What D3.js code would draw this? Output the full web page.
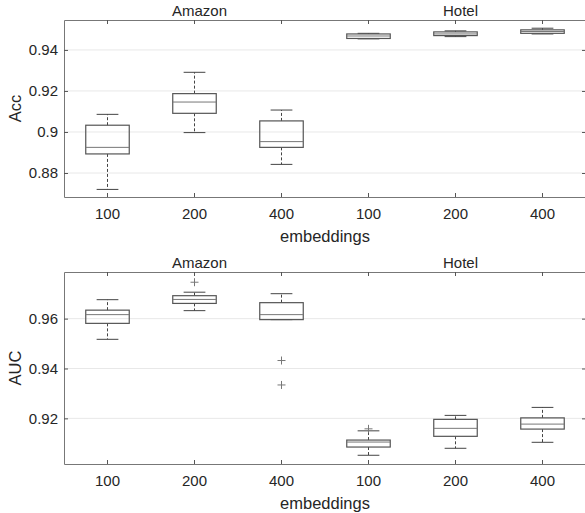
<!DOCTYPE html>
<html>
<head>
<meta charset="utf-8">
<script src="https://cdn.jsdelivr.net/npm/d3@7"></script>
<style>
  body { margin: 0; background: #fff; }
  text { font-family: "Liberation Sans", Arial, sans-serif; fill: #262626; }
</style>
</head>
<body>
<div id="chart"></div>
<script>
// data
const groups = ["Amazon", "Hotel"];
const embeddings = ["100", "200", "400"];

// Acc panel (order: Amazon 100,200,400, Hotel 100,200,400)
const accLow  = [0.8720, 0.8997, 0.8842, 0.9454, 0.9465, 0.9478];
const accQ1   = [0.8893, 0.9091, 0.8925, 0.9456, 0.9470, 0.9481];
const accMed  = [0.8925, 0.9146, 0.8953, 0.9468, 0.9478, 0.9490];
const accQ3   = [0.9033, 0.9187, 0.9054, 0.9478, 0.9488, 0.9498];
const accHigh = [0.9086, 0.9291, 0.9107, 0.9481, 0.9493, 0.9506];
const accOut  = [[], [], [], [], [], []];
const accTicks = [0.88, 0.9, 0.92, 0.94];

// AUC panel
const aucLow  = [0.9517, 0.9632, 0.9596, 0.9052, 0.9080, 0.9104];
const aucQ1   = [0.9581, 0.9661, 0.9596, 0.9085, 0.9128, 0.9157];
const aucMed  = [0.9616, 0.9677, 0.9616, 0.9105, 0.9160, 0.9177];
const aucQ3   = [0.9634, 0.9692, 0.9664, 0.9113, 0.9196, 0.9202];
const aucHigh = [0.9676, 0.9706, 0.9700, 0.9150, 0.9212, 0.9244];
const aucOut  = [[], [0.9746], [0.9432, 0.9334], [0.9158], [], []];
const aucTicks = [0.92, 0.94, 0.96];

const W = 585, H = 513;
const svg = d3.select("#chart").append("svg")
    .attr("width", W)
    .attr("height", H);

const slots = [];
groups.forEach(g => embeddings.forEach(e => slots.push(g + "-" + e)));

const x = d3.scaleBand().domain(slots).range([64, 586]).padding(0);
const bw = x.bandwidth() * 0.5;

function panel(cfg) {
  const y = d3.scaleLinear().domain(cfg.domain).range([cfg.bottom, cfg.top]);
  const g = svg.append("g");
  const left = 64, right = 586;

  // grid
  g.selectAll(".grid")
    .data(cfg.ticks)
    .join("line")
      .attr("x1", left).attr("x2", right)
      .attr("y1", d => y(d)).attr("y2", d => y(d))
      .attr("stroke", "#e8e8e8")
      .attr("stroke-width", 1);

  // bottom axis
  const ax = g.append("g")
    .attr("transform", `translate(0,${cfg.bottom})`)
    .call(d3.axisBottom(x).tickSizeInner(-4).tickSizeOuter(0)
      .tickFormat(d => d.split("-")[1]));
  ax.select(".domain").attr("stroke", "#777");
  ax.selectAll(".tick line").attr("stroke", "#555");
  ax.selectAll(".tick text")
    .attr("y", 17)
    .attr("dy", "0.32em")
    .style("font-size", "15px")
    .style("font-family", "Liberation Sans, Arial, sans-serif")
    .attr("fill", "#262626");

  // top axis (ticks only)
  const axT = g.append("g")
    .attr("transform", `translate(0,${cfg.top})`)
    .call(d3.axisTop(x).tickSizeInner(-4).tickSizeOuter(0).tickFormat(""));
  axT.select(".domain").attr("stroke", "#777");
  axT.selectAll(".tick line").attr("stroke", "#555");

  // left axis
  const ay = g.append("g")
    .attr("transform", `translate(${left},0)`)
    .call(d3.axisLeft(y).tickValues(cfg.ticks).tickSizeInner(-4).tickSizeOuter(0)
      .tickFormat(d => String(+d.toFixed(2))));
  ay.select(".domain").attr("stroke", "#777");
  ay.selectAll(".tick line").attr("stroke", "#555");
  ay.selectAll(".tick text")
    .attr("x", -6)
    .style("font-size", "15px")
    .style("font-family", "Liberation Sans, Arial, sans-serif")
    .attr("fill", "#262626");

  // right axis (ticks only)
  const ayR = g.append("g")
    .attr("transform", `translate(${right},0)`)
    .call(d3.axisRight(y).tickValues(cfg.ticks).tickSizeInner(-4).tickSizeOuter(0).tickFormat(""));
  ayR.select(".domain").attr("stroke", "#777");
  ayR.selectAll(".tick line").attr("stroke", "#555");

  // boxes
  const boxes = slots.map((s, i) => ({
    slot: s, low: cfg.low[i], q1: cfg.q1[i], med: cfg.med[i],
    q3: cfg.q3[i], high: cfg.high[i], out: cfg.out[i]
  }));
  const cx = d => x(d.slot) + x.bandwidth() / 2;
  const bg = g.selectAll(".box").data(boxes).join("g").attr("class", "box");

  bg.append("line")
    .attr("x1", cx).attr("x2", cx)
    .attr("y1", d => y(d.q3)).attr("y2", d => y(d.high))
    .attr("stroke", "#444").attr("stroke-dasharray", "3,2");
  bg.append("line")
    .attr("x1", cx).attr("x2", cx)
    .attr("y1", d => y(d.q1)).attr("y2", d => y(d.low))
    .attr("stroke", "#444").attr("stroke-dasharray", "3,2");
  bg.append("line")
    .attr("x1", d => cx(d) - bw / 4).attr("x2", d => cx(d) + bw / 4)
    .attr("y1", d => y(d.high)).attr("y2", d => y(d.high))
    .attr("stroke", "#444");
  bg.append("line")
    .attr("x1", d => cx(d) - bw / 4).attr("x2", d => cx(d) + bw / 4)
    .attr("y1", d => y(d.low)).attr("y2", d => y(d.low))
    .attr("stroke", "#444");
  bg.append("rect")
    .attr("x", d => cx(d) - bw / 2)
    .attr("width", bw)
    .attr("y", d => y(d.q3))
    .attr("height", d => Math.max(0.5, y(d.q1) - y(d.q3)))
    .attr("fill", "none")
    .attr("stroke", "#555")
    .attr("stroke-width", 1.2);
  bg.append("line")
    .attr("x1", d => cx(d) - bw / 2).attr("x2", d => cx(d) + bw / 2)
    .attr("y1", d => y(d.med)).attr("y2", d => y(d.med))
    .attr("stroke", "#777");

  // outliers
  bg.each(function(d) {
    d3.select(this).selectAll(".out")
      .data(d.out)
      .join("path")
        .attr("d", v => `M${cx(d) - 4},${y(v)}H${cx(d) + 4}M${cx(d)},${y(v) - 4}V${y(v) + 4}`)
        .attr("stroke", "#777")
        .attr("fill", "none");
  });

  // group titles
  g.selectAll(".gtitle")
    .data(groups)
    .join("text")
      .attr("x", (d, i) => x(d + "-200") + x.bandwidth() / 2 + 5)
      .attr("y", cfg.top - 4)
      .attr("text-anchor", "middle")
      .style("font-size", "15px")
      .text(d => d);

  // axis labels
  g.append("text")
    .attr("x", 325)
    .attr("y", cfg.bottom + 45)
    .attr("text-anchor", "middle")
    .style("font-size", "16.5px")
    .text("embeddings");

  g.append("text")
    .attr("transform", `translate(21,${(cfg.top + cfg.bottom) / 2}) rotate(-90)`)
    .attr("text-anchor", "middle")
    .style("font-size", "16.5px")
    .text(cfg.label);
}

panel({
  label: "Acc", top: 20, bottom: 197, domain: [0.8683, 0.9546], ticks: accTicks,
  low: accLow, q1: accQ1, med: accMed, q3: accQ3, high: accHigh, out: accOut
});

panel({
  label: "AUC", top: 272, bottom: 464, domain: [0.9017, 0.9787], ticks: aucTicks,
  low: aucLow, q1: aucQ1, med: aucMed, q3: aucQ3, high: aucHigh, out: aucOut
});
</script>
</body>
</html>
